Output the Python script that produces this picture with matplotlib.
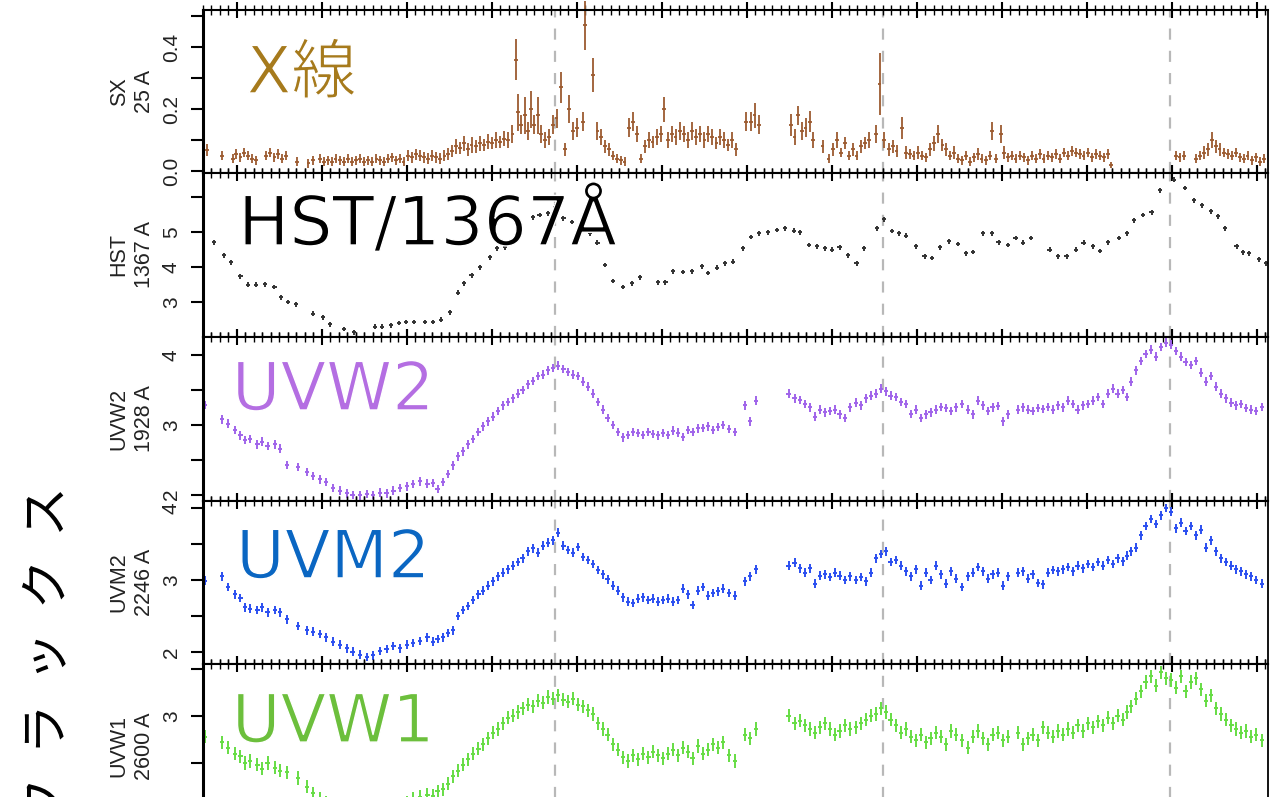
import numpy as np
import matplotlib.pyplot as plt
import matplotlib.patheffects as pe
from matplotlib.ticker import MultipleLocator

plt.rcParams['font.family'] = ['Liberation Sans', 'DejaVu Sans']
JP = ['Noto Sans CJK JP', 'DejaVu Sans']
BIG = ['DejaVu Sans', 'Noto Sans CJK JP']

# ---- soft X-ray (SX, 25 A) ----
sx_t = np.array([
    -3.5, -1.8, -0.5, -0.1, 0.4, 0.8, 1.3, 1.8, 2.2, 3.4,
    3.9, 4.4, 4.8, 5.3, 5.8, 7.1, 8.4, 8.9, 9.8, 10.2,
    10.7, 11.2, 11.6, 12.1, 12.6, 13.1, 13.5, 14.0, 14.5, 14.9,
    15.4, 15.9, 16.4, 16.8, 17.3, 17.8, 18.2, 18.7, 19.2, 19.6,
    20.1, 20.6, 21.1, 21.5, 22.0, 22.5, 22.9, 23.4, 23.9, 24.4,
    24.8, 25.3, 25.8, 26.2, 26.7, 27.2, 27.6, 28.1, 28.6, 29.1,
    29.5, 30.0, 30.5, 30.9, 31.4, 31.9, 32.4, 32.8, 33.1, 33.4,
    33.9, 34.2, 34.6, 34.9, 35.4, 35.8, 36.2, 36.7, 37.2, 37.6,
    38.1, 38.6, 39.1, 39.5, 40.0, 40.7, 40.9, 41.9, 42.4, 42.8,
    43.3, 43.8, 44.2, 44.7, 45.2, 45.6, 46.1, 46.6, 47.1, 47.5,
    48.0, 48.5, 48.9, 49.4, 49.9, 50.2, 50.7, 51.2, 51.6, 52.1,
    52.6, 53.1, 53.5, 54.0, 54.5, 55.0, 55.4, 55.9, 56.4, 56.8,
    57.3, 57.8, 58.2, 58.7, 59.9, 60.5, 60.9, 61.4, 65.2, 65.6,
    66.0, 66.5, 66.9, 67.4, 67.8, 68.9, 69.6, 70.1, 70.6, 71.1,
    71.5, 72.0, 72.5, 72.9, 73.4, 73.9, 74.4, 75.2, 75.6, 76.1,
    76.7, 77.2, 77.6, 78.2, 78.7, 79.2, 79.6, 80.1, 80.6, 81.1,
    81.5, 82.0, 82.5, 83.0, 83.4, 83.9, 84.4, 84.8, 85.3, 85.8,
    86.2, 86.7, 87.2, 87.6, 88.1, 88.6, 88.8, 89.3, 89.9, 90.2,
    90.7, 91.2, 91.6, 92.1, 92.6, 93.1, 93.5, 94.0, 94.5, 94.9,
    95.4, 95.9, 96.4, 96.8, 97.3, 97.8, 98.2, 98.7, 99.2, 99.6,
    100.1, 100.6, 101.1, 101.5, 102.0, 102.5, 102.8, 110.5, 110.9, 111.4,
    112.8, 113.3, 113.8, 114.2, 114.7, 115.2, 115.6, 116.1, 116.6, 117.1,
    117.5, 118.0, 118.5, 118.9, 119.4, 119.9, 120.4, 120.8])
sx_val = np.array([
    .068, .05, .04, .055, .045, .06, .05, .04, .035, .05,
    .06, .045, .055, .04, .05, .03, .025, .035, .04, .03,
    .035, .03, .04, .035, .03, .04, .03, .035, .04, .03,
    .035, .03, .04, .035, .03, .04, .045, .035, .04, .03,
    .05, .045, .055, .05, .045, .04, .05, .045, .04, .05,
    .055, .065, .08, .075, .09, .07, .085, .08, .09, .085,
    .095, .09, .1, .095, .105, .1, .12, .36, .19, .15,
    .18, .13, .2, .15, .18, .12, .1, .11, .15, .17,
    .27, .07, .2, .13, .14, .16, .47, .31, .13, .11,
    .08, .07, .05, .04, .035, .03, .14, .16, .12, .04,
    .08, .1, .095, .11, .12, .2, .1, .12, .11, .13,
    .12, .1, .13, .11, .12, .1, .12, .11, .09, .11,
    .1, .085, .1, .07, .16, .16, .18, .15, .15, .11,
    .18, .13, .14, .16, .1, .08, .04, .07, .1, .06,
    .09, .05, .07, .05, .08, .09, .1, .12, .28, .1,
    .07, .08, .065, .14, .06, .055, .05, .06, .05, .045,
    .07, .09, .12, .085, .07, .05, .06, .04, .035, .05,
    .03, .045, .055, .04, .035, .05, .13, .04, .12, .06,
    .045, .05, .04, .05, .045, .035, .05, .04, .055, .04,
    .05, .045, .055, .04, .06, .05, .065, .06, .055, .05,
    .06, .045, .055, .05, .045, .055, .02, .05, .045, .05,
    .04, .05, .06, .07, .1, .08, .07, .06, .055, .05,
    .06, .045, .04, .05, .035, .045, .03, .04])
sx_err = np.array([
    .02, .015, .015, .015, .015, .015, .015, .015, .015, .015,
    .015, .015, .015, .015, .015, .015, .015, .015, .015, .015,
    .015, .015, .015, .015, .015, .015, .015, .015, .015, .015,
    .015, .015, .015, .015, .015, .015, .015, .015, .015, .015,
    .018, .018, .018, .018, .018, .018, .018, .018, .018, .018,
    .02, .02, .025, .02, .025, .02, .025, .02, .025, .02,
    .025, .02, .025, .02, .025, .025, .03, .065, .06, .03,
    .06, .03, .06, .03, .06, .03, .025, .025, .03, .03,
    .05, .02, .045, .03, .03, .03, .08, .055, .03, .025,
    .02, .02, .015, .015, .015, .015, .03, .03, .025, .015,
    .02, .025, .02, .025, .025, .04, .025, .025, .025, .03,
    .025, .025, .03, .025, .025, .025, .025, .025, .02, .025,
    .025, .02, .025, .02, .03, .03, .04, .03, .035, .025,
    .03, .03, .03, .035, .025, .02, .015, .02, .025, .015,
    .02, .015, .02, .015, .02, .02, .025, .03, .1, .025,
    .02, .02, .02, .035, .02, .015, .015, .02, .015, .015,
    .02, .025, .03, .02, .02, .015, .02, .015, .015, .015,
    .015, .015, .02, .015, .015, .015, .03, .015, .03, .02,
    .015, .015, .015, .015, .015, .015, .015, .015, .015, .015,
    .015, .015, .015, .015, .015, .015, .015, .015, .015, .015,
    .015, .015, .015, .015, .015, .015, .01, .015, .015, .015,
    .015, .015, .02, .02, .025, .02, .02, .015, .015, .015,
    .015, .015, .015, .015, .015, .015, .015, .015])

# ---- HST 1367 A ----
hst_t = np.array([
    -2.7, -1.5, -0.7, 0.4, 1.3, 2.2, 3.3, 4.4, 5.2, 6.0,
    6.9, 8.9, 10.1, 10.9, 12.6, 13.8, 16.2, 17.1, 18.1, 19.1,
    19.9, 20.8, 22.1, 23.1, 24.0, 25.1, 26.0, 26.7, 27.6, 28.6,
    29.8, 30.6, 31.5, 34.8, 35.6, 36.6, 37.4, 38.4, 39.4, 40.4,
    41.5, 42.4, 43.3, 44.2, 45.4, 46.5, 47.4, 49.5, 50.4, 51.3,
    52.5, 53.5, 54.7, 55.4, 56.5, 57.4, 58.4, 59.5, 60.5, 61.4,
    62.5, 63.5, 64.5, 65.5, 66.2, 67.3, 68.2, 69.2, 70.0, 70.9,
    71.9, 72.9, 73.8, 75.3, 76.1, 77.1, 77.9, 78.7, 79.9, 80.9,
    81.8, 82.7, 83.8, 84.8, 85.8, 86.6, 87.8, 88.8, 89.6, 90.7,
    91.6, 92.5, 93.4, 95.6, 96.6, 97.6, 98.7, 99.6, 100.7, 101.5,
    102.5, 103.8, 104.7, 105.5, 106.6, 107.6, 108.6, 110.2, 111.5, 112.6,
    113.5, 114.6, 115.4, 116.2, 117.6, 118.4, 119.1, 120.2, 121.1])
hst_val = np.array([
    4.71, 4.34, 4.14, 3.74, 3.49, 3.49, 3.51, 3.43, 3.14, 3.00,
    2.94, 2.66, 2.57, 2.37, 2.23, 2.14, 2.29, 2.29, 2.34, 2.40,
    2.43, 2.43, 2.43, 2.43, 2.49, 2.71, 3.26, 3.54, 3.77, 4.00,
    4.28, 4.54, 4.57, 5.43, 5.49, 5.54, 5.72, 5.40, 5.29, 5.14,
    4.97, 4.69, 4.06, 3.60, 3.43, 3.54, 3.71, 3.57, 3.57, 3.88,
    3.86, 3.88, 4.02, 3.83, 3.98, 4.11, 4.15, 4.54, 4.86, 4.97,
    5.00, 5.06, 5.11, 5.04, 5.00, 4.63, 4.60, 4.54, 4.49, 4.57,
    4.34, 4.11, 4.54, 5.11, 5.37, 5.03, 4.97, 4.89, 4.60, 4.31,
    4.26, 4.57, 4.74, 4.66, 4.40, 4.43, 4.97, 4.97, 4.71, 4.63,
    4.83, 4.69, 4.83, 4.49, 4.31, 4.31, 4.49, 4.69, 4.60, 4.46,
    4.71, 4.83, 4.97, 5.34, 5.49, 5.57, 6.20, 6.50, 6.26, 5.91,
    5.77, 5.60, 5.45, 5.11, 4.60, 4.42, 4.40, 4.22, 4.11])

# ---- Swift UVOT bands, common epochs ----
uv_t = np.array([
    -3.8, -1.8, -1.1, -0.2, 0.4, 0.9, 1.5, 2.4, 2.9, 3.6,
    4.5, 5.1, 5.9, 7.2, 8.2, 8.9, 9.8, 10.5, 11.3, 12.1,
    12.9, 13.6, 14.5, 15.3, 16.0, 16.8, 17.6, 18.4, 19.2, 20.0,
    20.7, 21.5, 22.4, 23.1, 23.6, 24.2, 24.8, 25.4, 26.0, 26.6,
    27.2, 27.8, 28.4, 28.9, 29.5, 30.1, 30.7, 31.3, 31.9, 32.5,
    33.1, 33.6, 34.2, 34.8, 35.4, 36.0, 36.6, 37.2, 37.8, 38.4,
    38.9, 39.5, 40.1, 40.7, 41.3, 41.9, 42.5, 43.1, 43.6, 44.2,
    44.8, 45.4, 46.0, 46.6, 47.2, 47.8, 48.4, 48.9, 49.5, 50.1,
    50.7, 51.3, 51.9, 52.5, 53.1, 53.6, 54.2, 54.8, 55.4, 56.0,
    56.6, 57.2, 57.9, 58.6, 59.8, 60.4, 61.1, 64.9, 65.6, 66.2,
    66.8, 67.4, 68.0, 68.6, 69.2, 69.8, 70.4, 70.9, 71.5, 72.1,
    72.8, 73.4, 74.0, 74.6, 75.2, 75.8, 76.4, 76.9, 77.5, 78.1,
    78.7, 79.3, 79.9, 80.5, 81.1, 81.6, 82.2, 82.8, 83.4, 84.0,
    84.6, 85.3, 86.0, 86.6, 87.2, 87.8, 88.4, 88.9, 89.5, 90.1,
    90.7, 91.9, 92.5, 93.1, 93.6, 94.2, 94.8, 95.4, 96.0, 96.6,
    97.2, 97.8, 98.4, 98.9, 99.5, 100.1, 100.7, 101.3, 101.9, 102.5,
    103.1, 103.6, 104.2, 104.7, 105.2, 105.8, 106.4, 106.9, 107.5, 108.1,
    108.7, 109.3, 109.9, 110.5, 111.1, 111.6, 112.2, 112.8, 113.4, 114.0,
    114.6, 115.2, 115.8, 116.4, 117.0, 117.5, 118.1, 118.7, 119.3, 119.9,
    120.6])
uvw2 = np.array([
    3.29, 3.08, 3.02, 2.93, 2.85, 2.78, 2.80, 2.72, 2.76, 2.70,
    2.72, 2.66, 2.43, 2.40, 2.33, 2.27, 2.22, 2.18, 2.10, 2.06,
    2.02, 2.00, 1.99, 2.01, 2.00, 2.03, 2.02, 2.06, 2.10, 2.12,
    2.15, 2.19, 2.16, 2.17, 2.08, 2.18, 2.30, 2.42, 2.55, 2.62,
    2.72, 2.80, 2.90, 2.98, 3.05, 3.12, 3.20, 3.28, 3.33, 3.38,
    3.45, 3.50, 3.58, 3.63, 3.70, 3.72, 3.78, 3.82, 3.85, 3.80,
    3.76, 3.72, 3.70, 3.62, 3.55, 3.45, 3.33, 3.22, 3.10, 3.00,
    2.90, 2.82, 2.86, 2.90, 2.88, 2.86, 2.90, 2.87, 2.85, 2.88,
    2.86, 2.92, 2.89, 2.83, 2.93, 2.90, 2.95, 2.96, 2.98, 2.93,
    2.97, 3.00, 2.94, 2.90, 3.28, 3.05, 3.35, 3.45, 3.38, 3.36,
    3.30, 3.25, 3.12, 3.22, 3.18, 3.20, 3.22, 3.15, 3.10, 3.25,
    3.32, 3.28, 3.38, 3.42, 3.45, 3.52, 3.48, 3.42, 3.40, 3.33,
    3.30, 3.16, 3.22, 3.10, 3.15, 3.18, 3.22, 3.26, 3.24, 3.20,
    3.25, 3.30, 3.22, 3.15, 3.35, 3.28, 3.20, 3.25, 3.27, 3.05,
    3.15, 3.22, 3.25, 3.22, 3.20, 3.24, 3.23, 3.26, 3.22, 3.28,
    3.25, 3.35, 3.30, 3.22, 3.28, 3.30, 3.35, 3.40, 3.30, 3.45,
    3.52, 3.45, 3.50, 3.40, 3.62, 3.78, 3.92, 4.02, 4.08, 3.98,
    4.12, 4.18, 4.15, 4.06, 3.98, 3.90, 3.86, 3.92, 3.75, 3.62,
    3.70, 3.55, 3.45, 3.38, 3.32, 3.28, 3.30, 3.24, 3.22, 3.20,
    3.26])
uvm2 = np.array([
    2.99, 3.05, 2.90, 2.80, 2.75, 2.62, 2.60, 2.58, 2.62, 2.55,
    2.58, 2.55, 2.45, 2.36, 2.30, 2.28, 2.25, 2.20, 2.14, 2.10,
    2.05, 2.00, 1.96, 1.93, 1.95, 2.01, 2.04, 2.08, 2.05, 2.10,
    2.12, 2.15, 2.20, 2.14, 2.18, 2.20, 2.26, 2.30, 2.50, 2.58,
    2.64, 2.72, 2.80, 2.85, 2.92, 2.98, 3.05, 3.10, 3.15, 3.20,
    3.25, 3.30, 3.40, 3.44, 3.38, 3.48, 3.52, 3.55, 3.66, 3.48,
    3.42, 3.38, 3.46, 3.32, 3.28, 3.22, 3.14, 3.08, 3.01, 2.92,
    2.85, 2.76, 2.70, 2.68, 2.74, 2.76, 2.72, 2.74, 2.70, 2.72,
    2.74, 2.70, 2.72, 2.88, 2.80, 2.65, 2.85, 2.90, 2.78, 2.82,
    2.84, 2.88, 2.82, 2.78, 2.98, 3.05, 3.15, 3.20, 3.24, 3.16,
    3.10, 3.16, 2.95, 3.06, 3.08, 3.04, 3.10, 3.06, 3.00, 3.05,
    3.00, 3.04, 2.98, 3.10, 3.30, 3.36, 3.40, 3.25, 3.28, 3.20,
    3.12, 3.05, 3.15, 2.92, 3.10, 3.00, 3.20, 3.08, 2.95, 3.12,
    3.02, 2.90, 3.05, 3.10, 3.18, 3.12, 3.02, 3.08, 3.10, 2.92,
    3.05, 3.10, 3.12, 3.02, 3.08, 2.96, 2.94, 3.10, 3.14, 3.12,
    3.15, 3.18, 3.12, 3.20, 3.16, 3.22, 3.18, 3.25, 3.20, 3.28,
    3.22, 3.30, 3.26, 3.34, 3.40, 3.45, 3.62, 3.75, 3.85, 3.78,
    3.90, 4.00, 3.95, 3.72, 3.80, 3.68, 3.75, 3.62, 3.70, 3.45,
    3.55, 3.40, 3.30, 3.25, 3.20, 3.15, 3.12, 3.08, 3.05, 3.00,
    2.95])
uvw1 = np.array([
    2.78, 2.72, 2.66, 2.60, 2.57, 2.50, 2.52, 2.48, 2.44, 2.50,
    2.45, 2.42, 2.40, 2.34, 2.25, 2.18, 2.12, 2.08, 2.04, 2.00,
    1.98, 1.96, 1.95, 1.97, 1.99, 2.00, 1.98, 2.02, 2.05, 2.08,
    2.12, 2.14, 2.16, 2.15, 2.20, 2.22, 2.28, 2.36, 2.42, 2.48,
    2.54, 2.60, 2.65, 2.70, 2.76, 2.82, 2.86, 2.92, 2.98, 3.00,
    3.04, 3.08, 3.12, 3.10, 3.16, 3.14, 3.20, 3.18, 3.22, 3.17,
    3.15, 3.18, 3.12, 3.10, 3.06, 3.02, 2.92, 2.86, 2.80, 2.70,
    2.64, 2.56, 2.52, 2.58, 2.54, 2.60, 2.56, 2.62, 2.58, 2.55,
    2.60, 2.64, 2.58, 2.66, 2.62, 2.55, 2.68, 2.60, 2.64, 2.70,
    2.66, 2.72, 2.58, 2.52, 2.80, 2.76, 2.86, 3.00, 2.92, 2.95,
    2.90, 2.86, 2.82, 2.88, 2.92, 2.86, 2.80, 2.84, 2.90, 2.86,
    2.88, 2.92, 2.96, 3.00, 3.02, 3.08, 3.04, 2.96, 2.90, 2.82,
    2.86, 2.78, 2.74, 2.80, 2.72, 2.76, 2.82, 2.78, 2.70, 2.84,
    2.80, 2.74, 2.66, 2.78, 2.84, 2.76, 2.70, 2.80, 2.82, 2.74,
    2.78, 2.82, 2.70, 2.76, 2.80, 2.74, 2.88, 2.82, 2.78, 2.84,
    2.80, 2.86, 2.82, 2.90, 2.84, 2.92, 2.88, 2.94, 2.90, 2.98,
    2.92, 3.00, 2.96, 3.04, 3.10, 3.18, 3.26, 3.36, 3.42, 3.32,
    3.46, 3.40, 3.38, 3.30, 3.42, 3.26, 3.36, 3.40, 3.28, 3.16,
    3.22, 3.08, 3.02, 2.96, 2.90, 2.86, 2.82, 2.84, 2.78, 2.80,
    2.74])
uv_err = 0.06
uvw1_err = 0.07

# epochs marked across all panels
marks = [37.4, 76.0, 109.8]

W, H = 1278, 797
x0, x1 = 203, 1268
edges = [10, 173, 337, 501, 664, 828]
xlim = (-4.0, 121.3)

fig = plt.figure(figsize=(W / 100, H / 100), dpi=100)

panels = [
    dict(ylim=(-0.006, 0.52), ticks=[0, .1, .2, .3, .4, .5],
         labels=['0.0', '', '0.2', '', '0.4', ''], ylab='SX\n25 A',
         name='X線', ncol='#a67a1c', npos=(0.041, 0.491), nsize=47),
    dict(ylim=(2.0, 6.69), ticks=[3, 4, 5, 6], labels=['3', '4', '5', ''],
         ylab='HST\n1367 A', name='HST/1367Å', ncol='black',
         npos=(0.033, 0.561), nsize=49),
    dict(ylim=(1.91, 4.26), ticks=[2, 2.5, 3, 3.5, 4],
         labels=['2', '', '3', '', '4'], ylab='UVW2\n1928 A',
         name='UVW2', ncol='#b46ee2', npos=(0.027, 0.555), nsize=48),
    dict(ylim=(1.83, 4.10), ticks=[2, 2.5, 3, 3.5, 4],
         labels=['2', '', '3', '', '4'], ylab='UVM2\n2246 A',
         name='UVM2', ncol='#0a66c2', npos=(0.031, 0.528), nsize=48),
    dict(ylim=(1.81, 3.55), ticks=[2, 2.5, 3, 3.5],
         labels=['', '', '3', ''], ylab='UVW1\n2600 A',
         name='UVW1', ncol='#6cbf3c', npos=(0.027, 0.524), nsize=48),
]

# a white outline shaves the heavy DejaVu strokes down a little
thin = [pe.Stroke(linewidth=1.0, foreground='white')]

axes = []
for i, p in enumerate(panels):
    top, bot = edges[i], edges[i + 1]
    ax = fig.add_axes([x0 / W, 1 - bot / H, (x1 - x0) / W, (bot - top) / H])
    ax.set_xlim(*xlim)
    ax.set_ylim(*p['ylim'])
    ax.xaxis.set_major_locator(MultipleLocator(10))
    ax.xaxis.set_minor_locator(MultipleLocator(1))
    ax.tick_params(axis='x', which='both', direction='inout', top=True,
                   bottom=True, labelbottom=False)
    ax.tick_params(axis='x', which='major', length=12, width=1.5)
    ax.tick_params(axis='x', which='minor', length=7, width=1.0)
    ax.set_yticks(p['ticks'])
    ax.set_yticklabels(p['labels'], rotation=90, va='center')
    ax.tick_params(axis='y', direction='out', length=9, width=1.5,
                   labelsize=15, pad=7, labelcolor='#222')
    for s in ('top', 'bottom'):
        ax.spines[s].set_linewidth(1.5)
    ax.spines['left'].set_linewidth(2.2)
    ax.spines['right'].set_linewidth(1.3)
    for m in marks:
        ax.axvline(m, color='#b8b8b8', lw=1.6, ls=(0, (5, 5)), zorder=0)
    ax.text(p['npos'][0], p['npos'][1], p['name'], transform=ax.transAxes,
            color=p['ncol'], fontsize=p['nsize'], family=BIG,
            ha='left', va='baseline', zorder=5, path_effects=thin)
    fig.text(132 / W, 1 - (top + bot) / 2 / H, p['ylab'], rotation=90,
             ha='center', va='center', multialignment='center',
             fontsize=15.5, color='#222', linespacing=1.3)
    axes.append(ax)

ax_sx, ax_hst, ax_w2, ax_m2, ax_w1 = axes

ax_sx.errorbar(sx_t, sx_val, yerr=sx_err, xerr=0.22, fmt='none',
               ecolor='#9c5b30', elinewidth=1.3, clip_on=False)
ax_hst.errorbar(hst_t, hst_val, yerr=0.07, xerr=0.25, fmt='none',
                ecolor='#333333', elinewidth=1.4)
ax_w2.errorbar(uv_t, uvw2, yerr=uv_err, xerr=0.25, fmt='none',
               ecolor='#a064ea', elinewidth=1.4)
ax_m2.errorbar(uv_t, uvm2, yerr=uv_err, xerr=0.25, fmt='none',
               ecolor='#2b4ff0', elinewidth=1.4)
ax_w1.errorbar(uv_t, uvw1, yerr=uvw1_err, xerr=0.25, fmt='none',
               ecolor='#66dd44', elinewidth=1.4)

fig.text(48 / W, 1 - 486 / H, 'フ  ラ  ッ  ク  ス', rotation=90,
         ha='center', va='top', fontsize=36, family=JP)

fig.savefig('out.png', dpi=100)
